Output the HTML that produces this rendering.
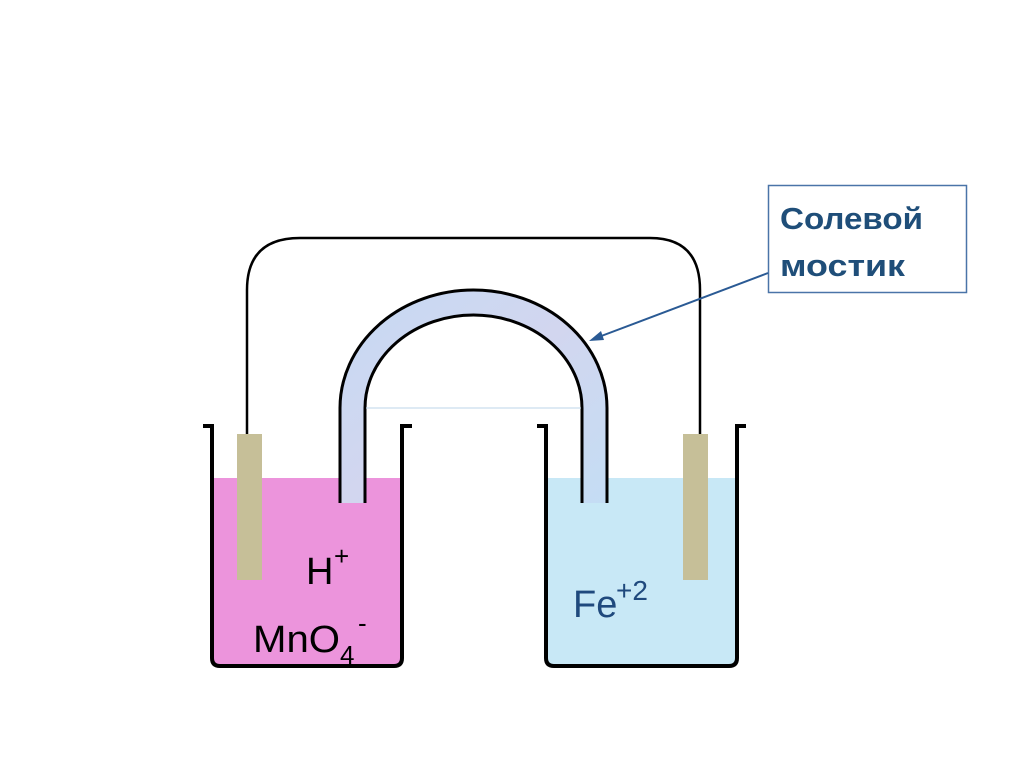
<!DOCTYPE html>
<html><head><meta charset="utf-8"><style>
html,body{margin:0;padding:0;background:#fff;}
svg{display:block;}
</style></head><body>
<svg width="1024" height="767" viewBox="0 0 1024 767" xmlns="http://www.w3.org/2000/svg">
<defs>
<linearGradient id="tb" x1="0" y1="0" x2="1" y2="1">
<stop offset="0" stop-color="#c6daf4"/><stop offset="0.5" stop-color="#d2d6ef"/><stop offset="1" stop-color="#c4ddf4"/>
</linearGradient>
</defs>
<rect x="214" y="478" width="187" height="187" fill="#ec94dc"/>
<rect x="548" y="478" width="188" height="187" fill="#c8e8f6"/>
<path d="M247,434 V290 Q247,238 300,238 H650 Q700,238 700,290 V434" fill="none" stroke="#000" stroke-width="2.5"/>
<rect x="237" y="434" width="25" height="146" fill="#c6bf98"/>
<rect x="683" y="434" width="25" height="146" fill="#c6bf98"/>
<path d="M340,503 V408 A133.5,118 0 0 1 607,408 V503 H582 V408 A108.5,93 0 0 0 365,408 V503 Z" fill="url(#tb)"/>
<path d="M340,503 V408 A133.5,118 0 0 1 607,408 V503" fill="none" stroke="#000" stroke-width="3"/>
<path d="M365,503 V408 A108.5,93 0 0 1 582,408 V503" fill="none" stroke="#000" stroke-width="3"/>
<line x1="366" y1="408" x2="581" y2="408" stroke="#bcd4e8" stroke-width="1"/>
<path d="M203,426 H212 V658 Q212,666 220,666 H394 Q402,666 402,658 V426 H412" fill="none" stroke="#000" stroke-width="4"/>
<path d="M537,426 H546 V658 Q546,666 554,666 H729 Q737,666 737,658 V426 H746" fill="none" stroke="#000" stroke-width="4"/>
<text x="306" y="584" font-family="Liberation Sans, sans-serif" font-size="38" fill="#000">H</text>
<text x="334" y="565" font-family="Liberation Sans, sans-serif" font-size="26" fill="#000">+</text>
<text x="253" y="652" font-family="Liberation Sans, sans-serif" font-size="38" fill="#000" textLength="87" lengthAdjust="spacingAndGlyphs">MnO</text>
<text x="340" y="664" font-family="Liberation Sans, sans-serif" font-size="26" fill="#000">4</text>
<text x="358" y="632" font-family="Liberation Sans, sans-serif" font-size="26" fill="#000">-</text>
<text x="573" y="617" font-family="Liberation Sans, sans-serif" font-size="38" fill="#1f497d">Fe</text>
<text x="616" y="600" font-family="Liberation Sans, sans-serif" font-size="28" fill="#1f497d">+2</text>
<rect x="768.5" y="185.5" width="198" height="107" fill="#fff" stroke="#4a74a8" stroke-width="1.5"/>
<text x="780" y="229" font-family="Liberation Sans, sans-serif" font-weight="bold" font-size="31" fill="#1f4e79" textLength="143" lengthAdjust="spacingAndGlyphs">Солевой</text>
<text x="780" y="276" font-family="Liberation Sans, sans-serif" font-weight="bold" font-size="31" fill="#1f4e79" textLength="125" lengthAdjust="spacingAndGlyphs">мостик</text>
<line x1="768" y1="273" x2="596" y2="338" stroke="#2a5a94" stroke-width="2"/>
<path d="M589,341 L601,331 L604,340 Z" fill="#2a5a94"/>
</svg>
</body></html>
